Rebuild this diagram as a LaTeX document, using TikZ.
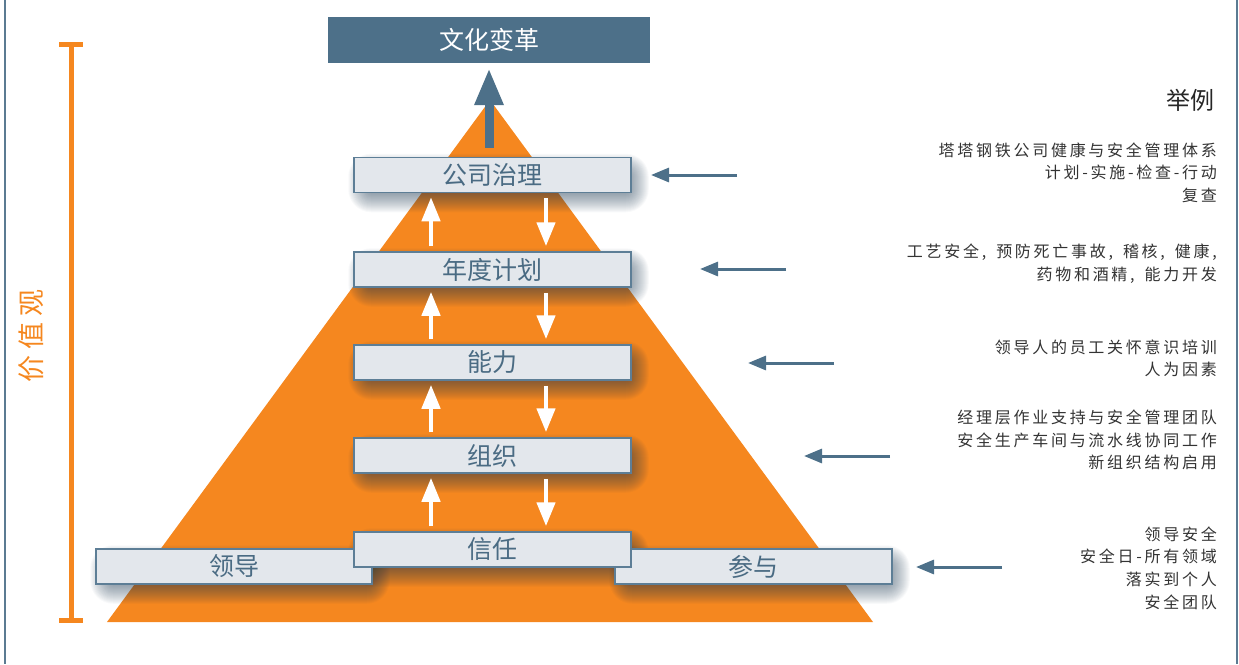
\documentclass[tikz,border=0pt]{standalone}
\usepackage{fontspec}
\newfontfamily\cjk{Noto Sans CJK SC}
\newfontfamily\cjkt[LetterSpace=17]{Noto Sans CJK SC}
\newfontfamily\cjkv[LetterSpace=22]{Noto Sans CJK SC}
\usetikzlibrary{arrows.meta,calc}
\definecolor{orng}{HTML}{F5871F}
\definecolor{slate}{HTML}{4D7089}
\definecolor{boxfill}{HTML}{E3E7EC}
\definecolor{boxline}{HTML}{5D7E96}
\definecolor{boxtext}{HTML}{4A6B83}
\definecolor{txt}{HTML}{333333}
\definecolor{shadowc}{HTML}{1F3A52}
\definecolor{framec}{HTML}{5B7B92}
\pgfdeclarelayer{tri}
\pgfdeclarelayer{shad}
\pgfsetlayers{tri,shad,main}
\newcommand\cm{,\hspace{10pt}}
\begin{document}
\begin{tikzpicture}[x=1pt,y=-1pt,
  levelbox/.style={draw=boxline, line width=1.5pt, fill=boxfill,
    minimum width=277pt, minimum height=35pt, inner sep=0pt,
    text=boxtext, font=\cjk\fontsize{25}{25}\selectfont},
  titlebox/.style={fill=slate, minimum width=322pt, minimum height=46pt,
    inner sep=0pt, text=white, font=\cjk\fontsize{25}{25}\selectfont},
  warrow/.style={draw=white, line width=4.5pt, -{Triangle[length=24pt,width=18pt]}},
  bigarrow/.style={draw=slate, line width=9pt, -{Triangle[length=37pt,width=27pt]}},
  rarrow/.style={draw=slate, line width=3pt, -{Triangle[length=18pt,width=14pt]}},
  exmp/.style={anchor=east, align=right, inner sep=0pt, text=txt,
    font=\cjkt\fontsize{16}{22.6}\selectfont},
  framel/.style={draw=framec, line width=2pt},
  beam/.style={draw=orng, line width=5pt}
]
\useasboundingbox (0,0) rectangle (1239,664);

% frame
\draw[framel] (5,0) -- (5,664);
\draw[framel] (1237,0) -- (1237,664);

% pyramid
\begin{pgfonlayer}{tri}
\fill[orng] (490,100) -- (873,622) -- (107,622) -- cycle;
\end{pgfonlayer}

% title
\node[titlebox] (title) at (489,40) {文化变革};

% level boxes
\node[levelbox] (gov)  at (492.5,175)   {公司治理};
\node[levelbox] (plan) at (492.5,269.5) {年度计划};
\node[levelbox] (cap)  at (492.5,362.5) {能力};
\node[levelbox] (org)  at (492.5,455.5) {组织};
\node[levelbox, minimum width=276pt] (lead) at (234,566.5) {领导};
\node[levelbox] (part) at (753.5,566.5) {参与};
\node[levelbox] (trust) at (492.5,549.5) {信任};

% shadows
\begin{pgfonlayer}{shad}
\foreach \b in {gov,plan,cap,org,trust,lead,part}{
  \foreach \e [evaluate=\e as \r using {max(0.5,\e+12)}] in {-11,...,11}{
    \fill[shadowc, fill opacity=0.03, rounded corners=\r pt]
      ($(\b.south west)+(6-\e,8+\e)$) rectangle ($(\b.north east)+(6+\e,8-\e)$);
  }
}
\end{pgfonlayer}

% big arrow
\draw[bigarrow] ([xshift=-3.5pt,yshift=9pt]gov.north) -- ([yshift=-5pt]title.south);

% white arrows
\foreach \u/\l in {gov/plan,plan/cap,cap/org,org/trust}{
  \draw[warrow] ([xshift=-61.5pt,yshift=5pt]\l.north) -- ([xshift=-61.5pt,yshift=-4pt]\u.south);
  \draw[warrow] ([xshift=53.5pt,yshift=-5pt]\u.south) -- ([xshift=53.5pt,yshift=5pt]\l.north);
}

% values axis
\coordinate (vt) at (71,44);
\coordinate (vb) at (71,620);
\draw[beam] (vt) -- (vb);
\draw[beam] ([xshift=-12pt]vt) -- ([xshift=12pt]vt);
\draw[beam] ([xshift=-12pt]vb) -- ([xshift=12pt]vb);
\node[rotate=90, text=orng, font=\cjkv\fontsize{27}{27}\selectfont, inner sep=0pt] (values) at (31,336) {价值观};

% examples
\node[anchor=east, inner sep=0pt, text=black!85, font=\cjk\fontsize{24}{24}\selectfont] (ex) at (1215,100) {举例};
\node[exmp] (e1) at (1217,172.5) {塔塔钢铁公司健康与安全管理体系\\计划-实施-检查-行动\\复查};
\node[exmp] (e2) at (1217,263.5) {工艺安全\cm 预防死亡事故\cm 稽核\cm 健康,\\药物和酒精\cm 能力开发};
\node[exmp] (e3) at (1217,358.5) {领导人的员工关怀意识培训\\人为因素};
\node[exmp] (e4) at (1217,440) {经理层作业支持与安全管理团队\\安全生产车间与流水线协同工作\\新组织结构启用};
\node[exmp] (e5) at (1217,568) {领导安全\\安全日-所有领域\\落实到个人\\安全团队};

% right arrows
\coordinate (t1) at (737,175);  \coordinate (h1) at (651,175);
\coordinate (t2) at (786,269);  \coordinate (h2) at (700,269);
\coordinate (t3) at (834,363);  \coordinate (h3) at (748,363);
\coordinate (t4) at (890,456);  \coordinate (h4) at (804,456);
\coordinate (t5) at (1002,567); \coordinate (h5) at (916,567);
\foreach \i in {1,...,5}{ \draw[rarrow] (t\i) -- (h\i); }
\end{tikzpicture}
\end{document}
